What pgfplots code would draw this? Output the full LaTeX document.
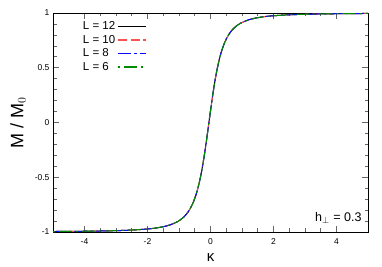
\documentclass[border=0pt]{standalone}
\usepackage{pgfplots}
\pgfplotsset{compat=1.18}
\usepackage{fontspec}
\setmainfont{Liberation Sans}
\definecolor{cred}{RGB}{255,80,80}
\definecolor{cblue}{RGB}{10,10,250}
\definecolor{cgreen}{RGB}{0,140,0}
\pgfplotstableread{
x y
-5.00 -0.9956
-4.55 -0.9946
-4.05 -0.9932
-3.55 -0.9912
-3.05 -0.9881
-2.55 -0.9830
-2.05 -0.9738
-1.80 -0.9662
-1.55 -0.9548
-1.30 -0.9368
-1.05 -0.9061
-0.95 -0.8877
-0.85 -0.8637
-0.75 -0.8319
-0.65 -0.7892
-0.55 -0.7309
-0.45 -0.6506
-0.40 -0.5998
-0.35 -0.5405
-0.30 -0.4720
-0.25 -0.3938
-0.20 -0.3059
-0.15 -0.2094
-0.10 -0.1065
-0.05 0
0.00 0.1065
0.05 0.2094
0.10 0.3059
0.15 0.3938
0.20 0.4720
0.25 0.5405
0.30 0.5998
0.35 0.6506
0.45 0.7309
0.55 0.7892
0.65 0.8319
0.75 0.8637
0.85 0.8877
0.95 0.9061
1.20 0.9368
1.45 0.9548
1.70 0.9662
1.95 0.9738
2.45 0.9830
2.95 0.9881
3.45 0.9912
3.95 0.9932
4.45 0.9946
5.00 0.9958
}\datatable
\begin{document}
\begin{tikzpicture}
\path[use as bounding box] (-53pt,-35pt) rectangle (329pt,232pt);
\begin{axis}[
  at={(0,0)}, anchor=south west,
  scale only axis, width=315pt, height=219pt,
  xmin=-5, xmax=5, ymin=-1, ymax=1,
  xtick={-4,-2,0,2,4}, xticklabels={-4,-2,0,2,4},
  ytick={-1,-0.5,0,0.5,1}, yticklabels={-1,-0.5,0,0.5,1},
  minor x tick num=3, minor y tick num=4,
  tick align=inside, tick pos=both,
  major tick length=6pt, minor tick length=3.5pt,
  every tick/.style={gray!80!black, line width=0.6pt},
  axis line style={line width=0.8pt},
  tick label style={font=\fontsize{8.5}{10}\selectfont},
  xticklabel style={yshift=-3pt},
  xlabel={κ},
  ylabel={M / M$_0$},
  xlabel style={font=\fontsize{15}{17}\selectfont, yshift=-2pt},
  ylabel style={font=\fontsize{18}{20}\selectfont, yshift=2pt},
  legend plot pos=right,
  legend style={draw=none, fill=none, at={(0.085,0.975)}, anchor=north west,
    font=\fontsize{11.5}{13}\selectfont, row sep=0pt, inner sep=1pt},
  legend cell align=left,
  legend image code/.code={\draw[#1, line width=1.5pt] (12pt,0pt) -- (40pt,0pt);},
]
\addplot[black, line width=1pt, smooth, forget plot] table[x=x,y=y] {\datatable};
\addplot[cred, line width=1pt, dash pattern=on 9pt off 3.5pt, smooth, forget plot] table[x=x,y=y] {\datatable};
\addplot[cblue, line width=1pt, dash pattern=on 13pt off 3pt on 2.5pt off 3pt, smooth, forget plot] table[x=x,y=y] {\datatable};
\addplot[cgreen, line width=1pt, dash pattern=on 2pt off 4pt on 13pt off 4pt, smooth, forget plot] table[x=x,y=y] {\datatable};
\addlegendimage{draw=black}
\addlegendentry{L = 12}
\addlegendimage{draw=cred, dash pattern=on 9pt off 3.5pt}
\addlegendentry{L = 10}
\addlegendimage{draw=cblue, dash pattern=on 13pt off 3pt on 2.5pt off 3pt}
\addlegendentry{L = 8}
\addlegendimage{draw=cgreen, dash pattern=on 2pt off 4pt on 13pt off 4pt}
\addlegendentry{L = 6}
\node[anchor=base east, inner sep=0pt, font=\fontsize{12.5}{14}\selectfont] at (axis cs:4.8,-0.90) {h$_\perp$ = 0.3};
\end{axis}
\end{tikzpicture}
\end{document}
